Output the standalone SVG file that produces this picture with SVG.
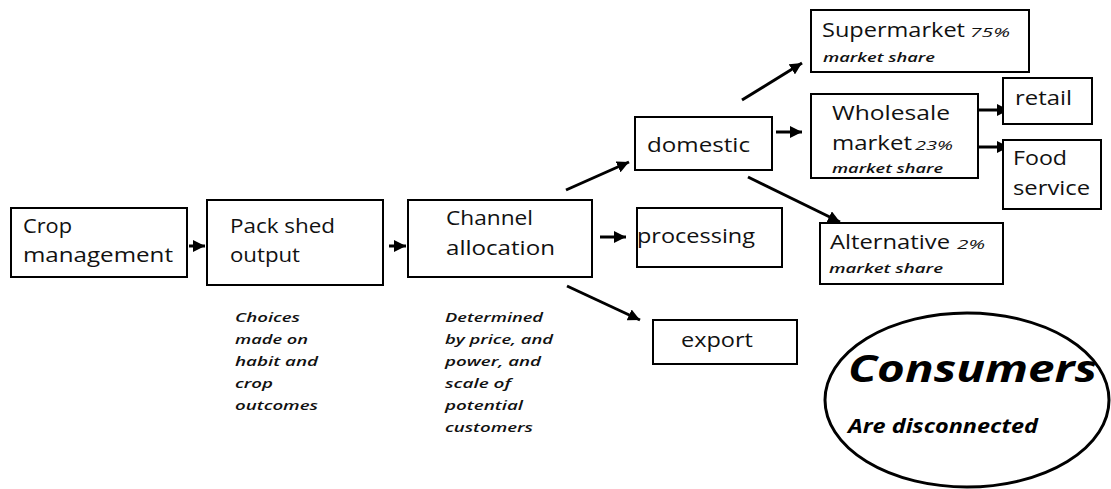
<svg xmlns="http://www.w3.org/2000/svg" width="1111" height="489" viewBox="0 0 1111 489">
<style>
.box{fill:#fff;stroke:#000;stroke-width:2}
.t{font-family:"Open Sans","Liberation Sans",sans-serif;font-size:20px;fill:#111}
.s{font-family:"Open Sans","Liberation Sans",sans-serif;font-size:12px;font-style:italic;font-weight:600;fill:#111}
.p{font-family:"Open Sans","Liberation Sans",sans-serif;font-size:13px;font-style:italic;fill:#111}
.n{font-family:"Open Sans","Liberation Sans",sans-serif;font-size:13px;font-style:italic;font-weight:600;fill:#111}
.c{stroke:#000;stroke-width:3;fill:none;marker-end:url(#ah)}
</style>
<defs>
<marker id="ah" markerUnits="userSpaceOnUse" markerWidth="14" markerHeight="12" refX="12" refY="6" orient="auto">
<path d="M0,0 L12,6 L0,12 Z" fill="#000"/>
</marker>
</defs>
<g id="connectors">
<line class="c" x1="189" y1="246" x2="205" y2="246"/>
<line class="c" x1="389" y1="246" x2="406" y2="246"/>
<line class="c" x1="600" y1="237" x2="626" y2="237"/>
<line class="c" x1="566" y1="190" x2="629" y2="162"/>
<line class="c" x1="567" y1="286" x2="640" y2="320"/>
<line class="c" x1="742" y1="100" x2="802" y2="63"/>
<line class="c" x1="776" y1="132" x2="802" y2="132"/>
<line class="c" x1="748" y1="177" x2="840" y2="222"/>
<line class="c" x1="978" y1="110" x2="1009" y2="110"/>
<line class="c" x1="978" y1="147" x2="1009" y2="147"/>
</g>
<g id="crop">
<rect class="box" x="11" y="208" width="176" height="69"/>
<text class="t" x="23" y="233" textLength="49" lengthAdjust="spacingAndGlyphs">Crop</text>
<text class="t" x="23" y="262" textLength="150" lengthAdjust="spacingAndGlyphs">management</text>
</g>
<g id="packshed">
<rect class="box" x="207" y="200" width="176" height="85"/>
<text class="t" x="230" y="233" textLength="105" lengthAdjust="spacingAndGlyphs">Pack shed</text>
<text class="t" x="230" y="262" textLength="70" lengthAdjust="spacingAndGlyphs">output</text>
</g>
<g id="channel">
<rect class="box" x="408" y="200" width="184" height="77"/>
<text class="t" x="446" y="225" textLength="87" lengthAdjust="spacingAndGlyphs">Channel</text>
<text class="t" x="446" y="255" textLength="109" lengthAdjust="spacingAndGlyphs">allocation</text>
</g>
<g id="processing">
<rect class="box" x="637" y="208" width="145" height="59"/>
<text class="t" x="637" y="243" textLength="118" lengthAdjust="spacingAndGlyphs">processing</text>
</g>
<g id="domestic">
<rect class="box" x="635" y="117" width="137" height="53"/>
<text class="t" x="647" y="152" textLength="103" lengthAdjust="spacingAndGlyphs">domestic</text>
</g>
<g id="export">
<rect class="box" x="653" y="320" width="144" height="44"/>
<text class="t" x="681" y="347" textLength="72" lengthAdjust="spacingAndGlyphs">export</text>
</g>
<g id="supermarket">
<rect class="box" x="811" y="10" width="218" height="62"/>
<text class="t" x="822" y="37" textLength="143" lengthAdjust="spacingAndGlyphs">Supermarket</text>
<text class="p" x="970" y="37" textLength="40" lengthAdjust="spacingAndGlyphs">75%</text>
<text class="s" x="823" y="62" textLength="112" lengthAdjust="spacingAndGlyphs">market share</text>
</g>
<g id="wholesale">
<rect class="box" x="811" y="94" width="167" height="84"/>
<text class="t" x="832" y="120" textLength="118" lengthAdjust="spacingAndGlyphs">Wholesale</text>
<text class="t" x="832" y="150" textLength="80" lengthAdjust="spacingAndGlyphs">market</text>
<text class="p" x="915" y="150" textLength="38" lengthAdjust="spacingAndGlyphs">23%</text>
<text class="s" x="832" y="173" textLength="111" lengthAdjust="spacingAndGlyphs">market share</text>
</g>
<g id="retail">
<rect class="box" x="1003" y="78" width="89" height="46"/>
<text class="t" x="1015" y="105" textLength="57" lengthAdjust="spacingAndGlyphs">retail</text>
</g>
<g id="foodservice">
<rect class="box" x="1003" y="140" width="98" height="69"/>
<text class="t" x="1013" y="165" textLength="54" lengthAdjust="spacingAndGlyphs">Food</text>
<text class="t" x="1013" y="195" textLength="77" lengthAdjust="spacingAndGlyphs">service</text>
</g>
<g id="alternative">
<rect class="box" x="820" y="223" width="183" height="61"/>
<text class="t" x="830" y="249" textLength="120" lengthAdjust="spacingAndGlyphs">Alternative</text>
<text class="p" x="957" y="249" textLength="28" lengthAdjust="spacingAndGlyphs">2%</text>
<text class="s" x="829" y="273" textLength="114" lengthAdjust="spacingAndGlyphs">market share</text>
</g>
<g id="note-packshed">
<text class="n" x="235" y="322" textLength="65" lengthAdjust="spacingAndGlyphs">Choices</text>
<text class="n" x="235" y="344" textLength="73" lengthAdjust="spacingAndGlyphs">made on</text>
<text class="n" x="235" y="366" textLength="83" lengthAdjust="spacingAndGlyphs">habit and</text>
<text class="n" x="235" y="388" textLength="38" lengthAdjust="spacingAndGlyphs">crop</text>
<text class="n" x="235" y="410" textLength="83" lengthAdjust="spacingAndGlyphs">outcomes</text>
</g>
<g id="note-channel">
<text class="n" x="445" y="322" textLength="98" lengthAdjust="spacingAndGlyphs">Determined</text>
<text class="n" x="445" y="344" textLength="108" lengthAdjust="spacingAndGlyphs">by price, and</text>
<text class="n" x="445" y="366" textLength="96" lengthAdjust="spacingAndGlyphs">power, and</text>
<text class="n" x="445" y="388" textLength="66" lengthAdjust="spacingAndGlyphs">scale of</text>
<text class="n" x="445" y="410" textLength="78" lengthAdjust="spacingAndGlyphs">potential</text>
<text class="n" x="445" y="432" textLength="88" lengthAdjust="spacingAndGlyphs">customers</text>
</g>
<g id="consumers">
<ellipse cx="967" cy="400" rx="142" ry="87" fill="#fff" stroke="#000" stroke-width="3"/>
<text x="848" y="382" font-family="Open Sans, Liberation Sans, sans-serif" font-size="38" font-style="italic" font-weight="bold" fill="#000" textLength="249" lengthAdjust="spacingAndGlyphs">Consumers</text>
<text x="848" y="433" font-family="Open Sans, Liberation Sans, sans-serif" font-size="20" font-style="italic" font-weight="bold" fill="#000" textLength="190" lengthAdjust="spacingAndGlyphs">Are disconnected</text>
</g>
</svg>
